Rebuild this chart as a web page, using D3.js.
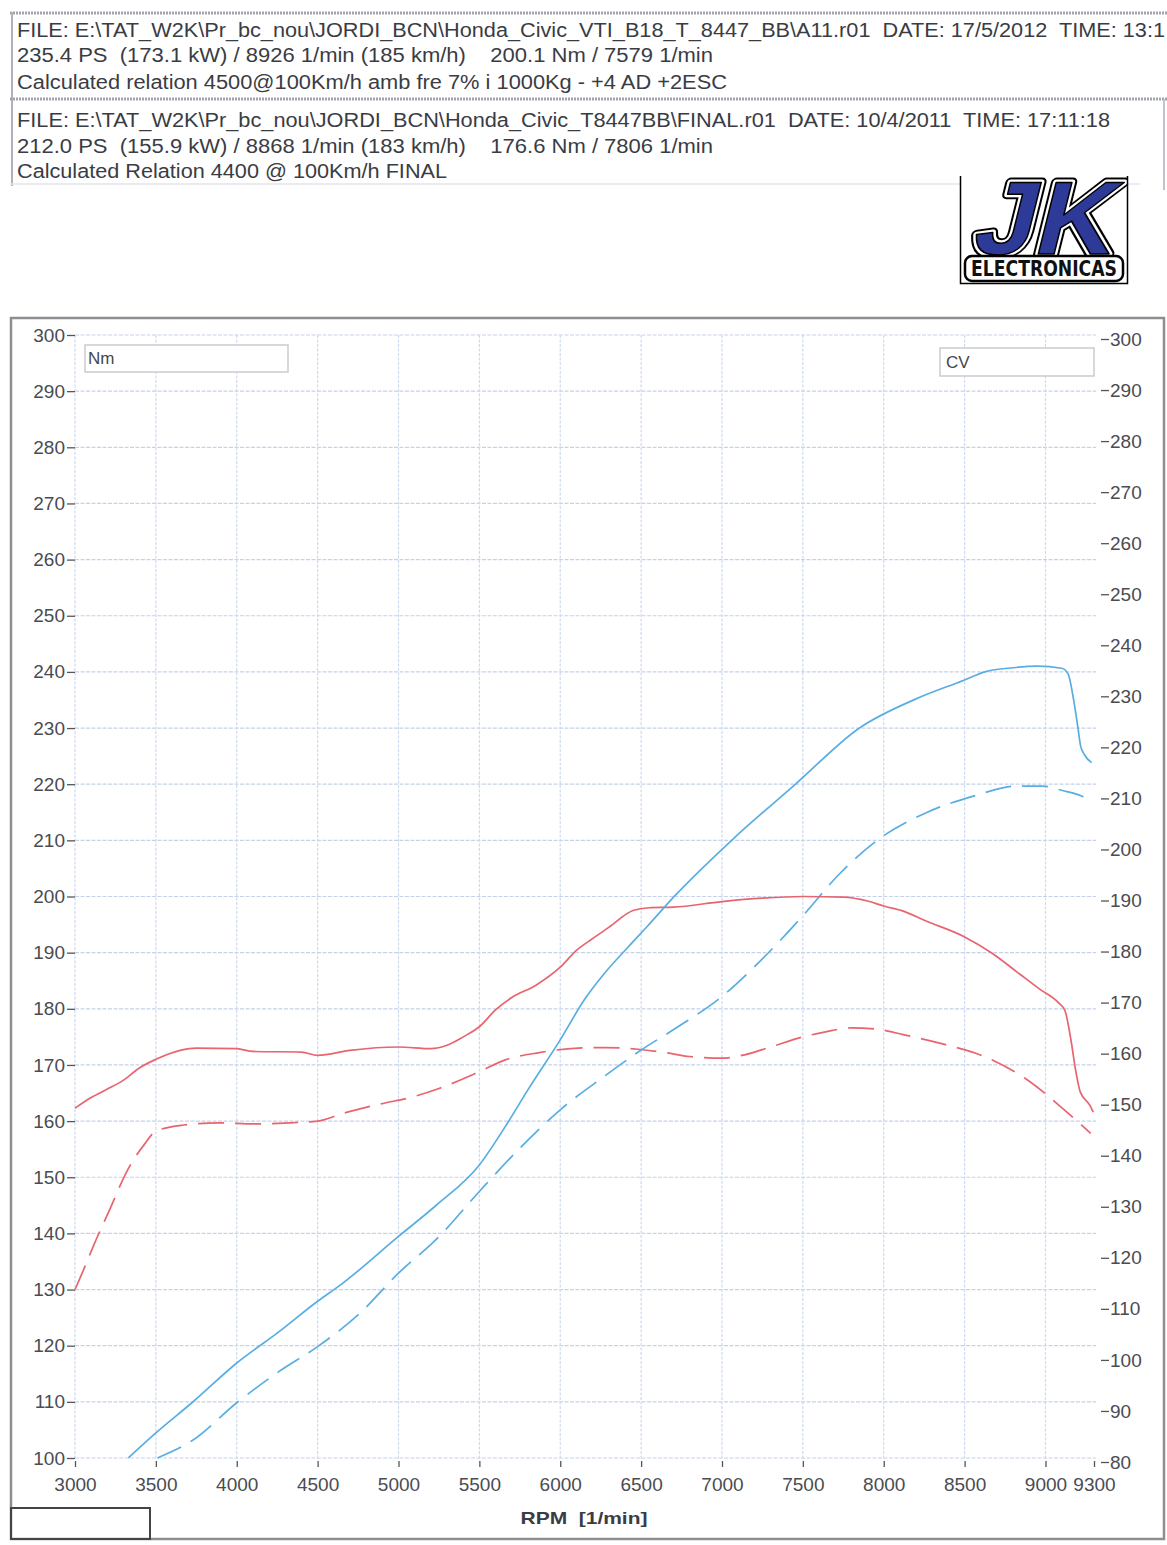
<!DOCTYPE html>
<html><head><meta charset="utf-8">
<script src="https://cdn.jsdelivr.net/npm/d3@7"></script>
<style>body{margin:0;background:#fff} svg{display:block}</style>
</head><body>
<svg id="c" width="1167" height="1545"></svg>
<script>
// ---------- data ----------
const headerLines = [
  "FILE: E:\\TAT_W2K\\Pr_bc_nou\\JORDI_BCN\\Honda_Civic_VTI_B18_T_8447_BB\\A11.r01  DATE: 17/5/2012  TIME: 13:1",
  "235.4 PS  (173.1 kW) / 8926 1/min (185 km/h)    200.1 Nm / 7579 1/min",
  "Calculated relation 4500@100Km/h amb fre 7% i 1000Kg - +4 AD +2ESC",
  "FILE: E:\\TAT_W2K\\Pr_bc_nou\\JORDI_BCN\\Honda_Civic_T8447BB\\FINAL.r01  DATE: 10/4/2011  TIME: 17:11:18",
  "212.0 PS  (155.9 kW) / 8868 1/min (183 km/h)    176.6 Nm / 7806 1/min",
  "Calculated Relation 4400 @ 100Km/h FINAL"
];
const rpmTicks = [3000,3500,4000,4500,5000,5500,6000,6500,7000,7500,8000,8500,9000,9300];
const nmTicks = [100,110,120,130,140,150,160,170,180,190,200,210,220,230,240,250,260,270,280,290,300];
const cvTicks = [80,90,100,110,120,130,140,150,160,170,180,190,200,210,220,230,240,250,260,270,280,290,300];
const leftLabel = "Nm";
const rightLabel = "CV";
const xLabel = "RPM  [1/min]";
const logoTop = "JK";
const logoBottom = "ELECTRONICAS";

// torque, new run (solid red), Nm
const torqueNewRpm = [3000,3100,3200,3300,3400,3500,3650,3750,4000,4100,4400,4500,4700,5000,5200,5300,5400,5500,5600,5700,5850,6000,6100,6200,6300,6450,6550,6700,7000,7250,7500,7750,7900,8000,8120,8265,8500,8670,8840,8960,9080,9120,9160,9185,9215,9275,9295];
const torqueNewNm  = [162.3,164.2,165.7,167.3,169.5,171.0,172.6,173.0,172.9,172.4,172.3,171.7,172.6,173.2,172.9,173.5,175.0,176.8,179.8,182.0,184.2,187.4,190.4,192.5,194.5,197.5,198.0,198.1,199.1,199.7,200.0,199.9,199.2,198.3,197.4,195.6,192.8,189.9,186.2,183.6,181.1,179.7,174.0,169.3,165.2,162.8,161.6];
// torque, old run (dashed red), Nm
const torqueOldRpm = [3000,3060,3110,3220,3320,3430,3500,3670,3890,4110,4330,4500,4660,4880,5100,5250,5500,5660,5870,6110,6280,6480,6650,6800,7000,7140,7300,7500,7640,7800,7950,8120,8370,8630,8880,9120,9280];
const torqueOldNm  = [130.0,134.0,137.5,144.6,151.0,155.9,158.2,159.3,159.7,159.5,159.7,160.0,161.4,163.0,164.4,165.8,168.8,170.9,172.2,173.0,173.1,172.8,172.2,171.5,171.2,171.8,173.2,175.0,175.9,176.6,176.4,175.4,173.7,171.4,167.5,161.9,157.8];
// power, new run (solid blue), CV
const powerNewRpm = [3330,3500,3730,4000,4260,4500,4650,5000,5230,5500,5660,5800,6000,6150,6270,6420,6540,6705,7060,7455,7850,8200,8500,8625,8800,8950,9100,9140,9173,9200,9217,9240,9285];
const powerNewCv  = [80.8,85.7,91.8,99.4,105.5,111.5,114.9,124.2,130.2,138.2,145.7,152.9,162.7,170.6,175.6,180.9,185.0,190.8,201.8,212.8,223.8,229.5,233.2,234.8,235.6,235.9,235.5,234.4,229.5,224.0,220.3,218.6,217.0];
// power, old run (dashed blue), CV
const powerOldRpm = [3510,3730,4000,4260,4500,4760,5000,5230,5500,5760,6000,6270,6500,6730,7000,7200,7500,7720,7960,8270,8560,8820,8980,9110,9220,9260];
const powerOldCv  = [80.8,84.3,91.6,97.7,102.6,109.1,117.0,123.5,133.0,141.8,149.0,155.5,160.7,165.3,171.2,177.0,187.0,195.0,201.8,207.3,210.5,212.4,212.4,211.5,210.5,209.8];

// ---------- drawing ----------
const svg = d3.select("#c");
const FONT = "'Liberation Sans', Arial, sans-serif";
const RED = "#e8646e", BLUE = "#58aee3";

// header boxes
const hdr = svg.append("g");
hdr.append("line").attr("x1",10).attr("x2",1167).attr("y1",13).attr("y2",13).attr("stroke","#a0a4ac").attr("stroke-width",3).attr("stroke-dasharray","2,1");
hdr.append("line").attr("x1",12).attr("x2",12).attr("y1",12).attr("y2",186).attr("stroke","#b0b4ba").attr("stroke-width",2);
hdr.append("line").attr("x1",10).attr("x2",1167).attr("y1",99).attr("y2",99).attr("stroke","#a0a4ac").attr("stroke-width",3).attr("stroke-dasharray","2,1");
hdr.append("line").attr("x1",1164).attr("x2",1164).attr("y1",99).attr("y2",190).attr("stroke","#c0c4ca").attr("stroke-width",2);
hdr.append("line").attr("x1",10).attr("x2",1140).attr("y1",184).attr("y2",184).attr("stroke","#e2e4e8").attr("stroke-width",1.5);

const hdrY = [37, 62, 89, 127, 153, 178];
const hdrW = [1148, 696, 710, 1093, 696, 430];
hdr.selectAll("text.h").data(headerLines).join("text")
  .attr("class","h")
  .attr("x",17).attr("y",(d,i)=>hdrY[i])
  .attr("textLength",(d,i)=>hdrW[i]).attr("lengthAdjust","spacingAndGlyphs")
  .style("white-space","pre")
  .attr("font-family",FONT).attr("font-size",20).attr("fill","#3a3c44")
  .text(d=>d);

// logo
svg.append("defs").append("clipPath").attr("id","logoClip")
  .append("rect").attr("x",0).attr("y",0).attr("width",168).attr("height",108);
const logo = svg.append("g").attr("transform","translate(960,176)");
const logoIn = logo.append("g").attr("clip-path","url(#logoClip)");
logoIn.append("rect").attr("x",0).attr("y",0).attr("width",168).attr("height",108).attr("fill","#fff");
const jk = (sw, stroke, fill) => logoIn.append("text")
  .attr("x",80).attr("y",0).attr("text-anchor","middle")
  .attr("textLength",140).attr("lengthAdjust","spacingAndGlyphs")
  .attr("font-family","'Liberation Sans', Arial, sans-serif").attr("font-weight","bold").attr("font-size",104)
  .attr("transform","translate(0,78) skewX(-14)")
  .attr("fill",fill).attr("stroke",stroke).attr("stroke-width",sw).attr("stroke-linejoin","round")
  .text(logoTop);
jk(10,"#000","#000");
jk(6,"#fff","#fff");
jk(1.5,"#000","#2e3a98");
logoIn.append("rect").attr("x",5).attr("y",80).attr("width",158).attr("height",25).attr("rx",7)
  .attr("fill","#fff").attr("stroke","#000").attr("stroke-width",2.5);
logoIn.append("text").attr("x",84).attr("y",100).attr("text-anchor","middle")
  .attr("textLength",146).attr("lengthAdjust","spacingAndGlyphs")
  .attr("font-family","'DejaVu Sans', sans-serif").attr("font-weight","bold").attr("font-size",21)
  .attr("fill","#111").text(logoBottom);
logo.append("path").attr("d","M0.5,0 V107.5 H167.5 V0").attr("fill","none").attr("stroke","#000").attr("stroke-width",1.5);

// chart frame
svg.append("rect").attr("x",11).attr("y",318).attr("width",1153).attr("height",1221)
  .attr("fill","#fff").attr("stroke","#8c8e92").attr("stroke-width",2.5);
svg.append("rect").attr("x",11).attr("y",1508).attr("width",139).attr("height",31)
  .attr("fill","none").attr("stroke","#444").attr("stroke-width",2);

// scales
const x  = d3.scaleLinear().domain([3000,9300]).range([75,1094]);
const yL = d3.scaleLinear().domain([100,300]).range([1458,335]);
const yR = d3.scaleLinear().domain([80,300]).range([1462,339]);

// grid
const grid = svg.append("g");
grid.selectAll("line.h").data(nmTicks).join("line").attr("class","h")
  .attr("x1",x(3000)).attr("x2",1096).attr("y1",d=>yL(d)).attr("y2",d=>yL(d))
  .attr("stroke","#c6d2ea").attr("stroke-width",1.2).attr("stroke-dasharray","4,1.5");
grid.selectAll("line.v").data(rpmTicks.filter(d=>d<=9000)).join("line").attr("class","v")
  .attr("x1",d=>x(d)).attr("x2",d=>x(d)).attr("y1",yL(300)).attr("y2",yL(100)+2)
  .attr("stroke","#cedaef").attr("stroke-width",1.2).attr("stroke-dasharray","3,1.5");

// legend boxes
svg.append("rect").attr("x",85).attr("y",345).attr("width",203).attr("height",27)
  .attr("fill","#fff").attr("stroke","#c9cbd0").attr("stroke-width",1.5);
svg.append("text").attr("x",88).attr("y",364).attr("font-family",FONT).attr("font-size",17).attr("fill","#45474c").text(leftLabel);
svg.append("rect").attr("x",940).attr("y",348).attr("width",154).attr("height",28)
  .attr("fill","#fff").attr("stroke","#c9cbd0").attr("stroke-width",1.5);
svg.append("text").attr("x",946).attr("y",368).attr("font-family",FONT).attr("font-size",17).attr("fill","#45474c").text(rightLabel);

// axes
function styleAxis(g){
  g.select(".domain").remove();
  g.selectAll(".tick line").attr("stroke","#555").attr("stroke-width",1.3);
  g.selectAll(".tick text").attr("font-family",FONT).attr("font-size",19).attr("fill","#4a4c52");
}
svg.append("g").attr("transform","translate(75,0)")
  .call(d3.axisLeft(yL).tickValues(nmTicks).tickSize(8).tickPadding(2).tickFormat(d3.format("d")))
  .call(styleAxis);
svg.append("g").attr("transform","translate(1101,0)")
  .call(d3.axisRight(yR).tickValues(cvTicks).tickSize(8).tickPadding(1).tickFormat(d3.format("d")))
  .call(styleAxis);
svg.append("g").attr("transform","translate(0,1461)")
  .call(d3.axisBottom(x).tickValues(rpmTicks).tickSize(6).tickPadding(11).tickFormat(d3.format("d")))
  .call(styleAxis);

svg.append("text").attr("x",584).attr("y",1524).attr("text-anchor","middle")
  .attr("font-family",FONT).attr("font-weight","bold").attr("font-size",17)
  .attr("textLength",127).attr("lengthAdjust","spacingAndGlyphs")
  .style("white-space","pre").attr("fill","#3a3c44").text(xLabel);

// curves
const zip = (a,b)=>a.map((v,i)=>[v,b[i]]);
const lineL = d3.line().x(d=>x(d[0])).y(d=>yL(d[1])).curve(d3.curveMonotoneX);
const lineR = d3.line().x(d=>x(d[0])).y(d=>yR(d[1])).curve(d3.curveMonotoneX);
const curves = svg.append("g").attr("fill","none").attr("stroke-width",1.7).attr("stroke-linejoin","round");
curves.append("path").attr("d",lineL(zip(torqueOldRpm,torqueOldNm))).attr("stroke",RED).attr("stroke-dasharray","26,11");
curves.append("path").attr("d",lineR(zip(powerOldRpm,powerOldCv))).attr("stroke",BLUE).attr("stroke-dasharray","26,11");
curves.append("path").attr("d",lineL(zip(torqueNewRpm,torqueNewNm))).attr("stroke",RED);
curves.append("path").attr("d",lineR(zip(powerNewRpm,powerNewCv))).attr("stroke",BLUE);
</script>
</body></html>
